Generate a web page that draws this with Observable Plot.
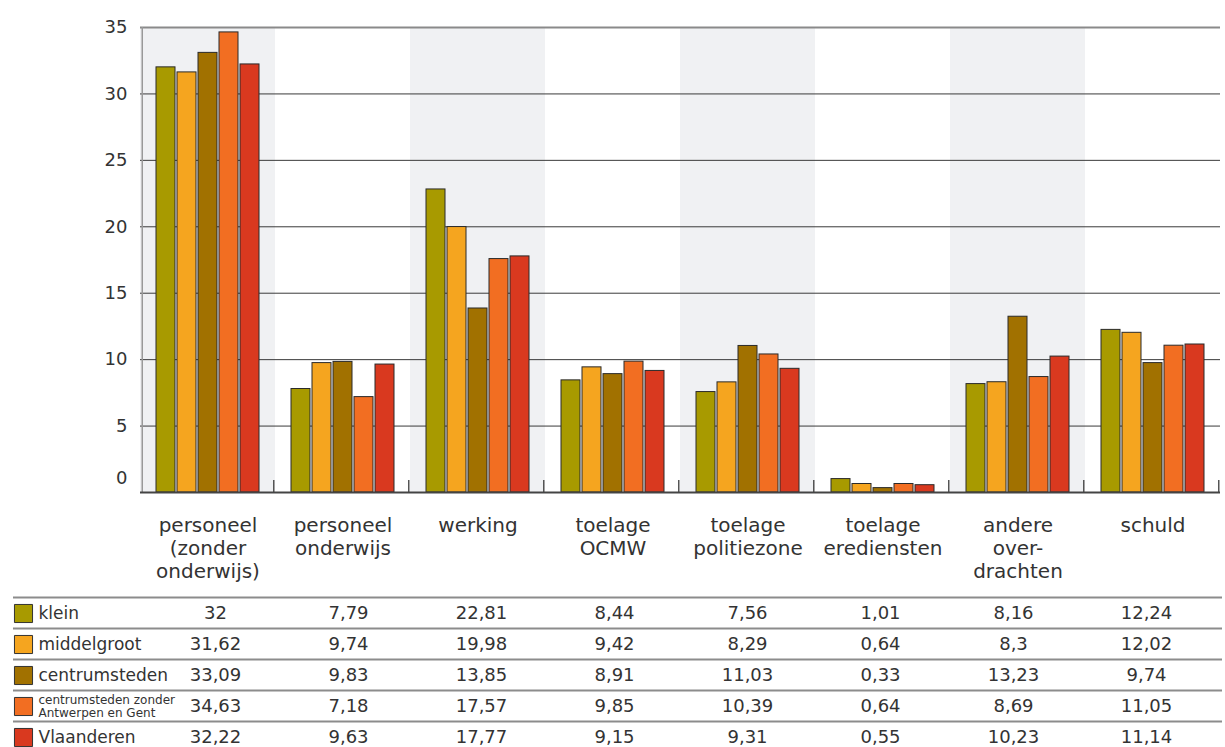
<!DOCTYPE html>
<html><head><meta charset="utf-8">
<script src="https://cdn.jsdelivr.net/npm/d3@7"></script>
<script src="https://cdn.jsdelivr.net/npm/@observablehq/plot@0.6"></script>
<style>
html,body{margin:0;padding:0;background:#fff;overflow:hidden;}
#chart svg,#table svg{display:block;}
</style></head><body>
<div id="chart"></div><div id="table"></div>
<script>
const categories = ["personeel\n(zonder\nonderwijs)", "personeel\nonderwijs", "werking", "toelage\nOCMW", "toelage\npolitiezone", "toelage\nerediensten", "andere\nover-\ndrachten", "schuld"];
const series = ["klein", "middelgroot", "centrumsteden", "centrumsteden zonder\nAntwerpen en Gent", "Vlaanderen"];
const colors = ["#a89a00", "#f5a51f", "#a17100", "#f26e22", "#d9391f"];
const klein = [32, 7.79, 22.81, 8.44, 7.56, 1.01, 8.16, 12.24];
const middelgroot = [31.62, 9.74, 19.98, 9.42, 8.29, 0.64, 8.3, 12.02];
const centrumsteden = [33.09, 9.83, 13.85, 8.91, 11.03, 0.33, 13.23, 9.74];
const centrumstedenZonder = [34.63, 7.18, 17.57, 9.85, 10.39, 0.64, 8.69, 11.05];
const vlaanderen = [32.22, 9.63, 17.77, 9.15, 9.31, 0.55, 10.23, 11.14];
const yTicks = [0, 5, 10, 15, 20, 25, 30, 35];

const values = [klein, middelgroot, centrumsteden, centrumstedenZonder, vlaanderen];
const rows = [];
categories.forEach((c, i) => series.forEach((s, j) => rows.push({cat: c, series: s, value: values[j][i]})));

const W = 1225, mL = 138, mR = 3, mT = 27, mB = 101, H = 593;
const catW = (W - mL - mR) / categories.length;
const pi = 0.09, po = 0.625;
const step = catW / (series.length - pi + 2 * po);
const firstC = step * po + step * (1 - pi) / 2;
const lastC = firstC + step * (series.length - 1);
const font = "DejaVu Sans";

const chart = Plot.plot({
  width: W, height: H, marginLeft: mL, marginRight: mR, marginTop: mT, marginBottom: mB,
  style: {fontFamily: font, color: "#333", background: "#fff"},
  fx: {domain: categories, paddingInner: 0, paddingOuter: 0, label: null},
  x: {domain: series, paddingInner: pi, paddingOuter: po, axis: null},
  y: {domain: [0, 35], axis: null, label: null},
  color: {domain: series, range: colors},
  marks: [
    Plot.rect(categories.filter((c, i) => i % 2 === 0), {fx: d => d, y1: 0, y2: 35, fill: "#f0f1f3"}),
    Plot.ruleY(yTicks.filter(v => v > 0 && v < 35), {stroke: "#3a3a3a", strokeWidth: 1}),
    Plot.ruleY([35], {stroke: "#8a8a8a", strokeWidth: 2}),
    Plot.barY(rows, {fx: "cat", x: "series", y: "value", fill: "series", stroke: "#2a2a2a", strokeWidth: 1}),
    Plot.ruleX(categories, {fx: d => d, x: () => series[series.length - 1], dx: catW - lastC, y1: 0, y2: 0.9, stroke: "#555", strokeWidth: 1.5}),
    Plot.ruleX([categories[0]], {fx: d => d, x: () => series[0], dx: -firstC, y1: 0, y2: 35, stroke: "#999", strokeWidth: 1.5}),
    Plot.ruleY([0], {stroke: "#444", strokeWidth: 2}),
    Plot.axisFx({anchor: "bottom", tickSize: 0, tickPadding: 23, fontSize: 20, lineHeight: 1.15, label: null, fill: "#333"}),
    Plot.axisY({ticks: yTicks.filter(v => v > 0), tickSize: 0, tickPadding: 13, fontSize: 18, label: null, fill: "#333"}),
    Plot.axisY({ticks: [0], tickSize: 0, tickPadding: 13, dy: -14, fontSize: 18, label: null, fill: "#333"})
  ]
});
document.getElementById("chart").append(chart);

const fmt = v => String(v).replace(".", ",");
const rowStep = 32.2;
const table = Plot.plot({
  width: W, height: 154, marginLeft: 13, marginRight: 3, marginTop: 0, marginBottom: 0,
  style: {fontFamily: font, color: "#333", background: "#fff", overflow: "hidden"},
  x: {type: "band", domain: categories, range: [mL, W - mR], axis: null},
  y: {type: "band", domain: series, range: [1, 1 + rowStep * series.length], axis: null},
  color: {domain: series, range: colors},
  marks: [
    Plot.ruleY(series, {y: d => d, dy: -rowStep / 2, stroke: "#8c8c8c", strokeWidth: 2}),
    Plot.dot(series, {y: d => d, frameAnchor: "left", dx: 10, symbol: "square", r: 10.2, fill: d => d, stroke: "#333", strokeWidth: 1}),
    Plot.text(series, {y: d => d, frameAnchor: "left", dx: 25, textAnchor: "start", text: d => d, fontSize: d => d.includes("\n") ? 12 : 17, lineHeight: 1.1, fill: "#333"}),
    Plot.text(rows, {x: "cat", y: "series", text: d => fmt(d.value), fontSize: 18, fill: "#333"})
  ]
});
document.getElementById("table").append(table);
</script>
</body></html>
